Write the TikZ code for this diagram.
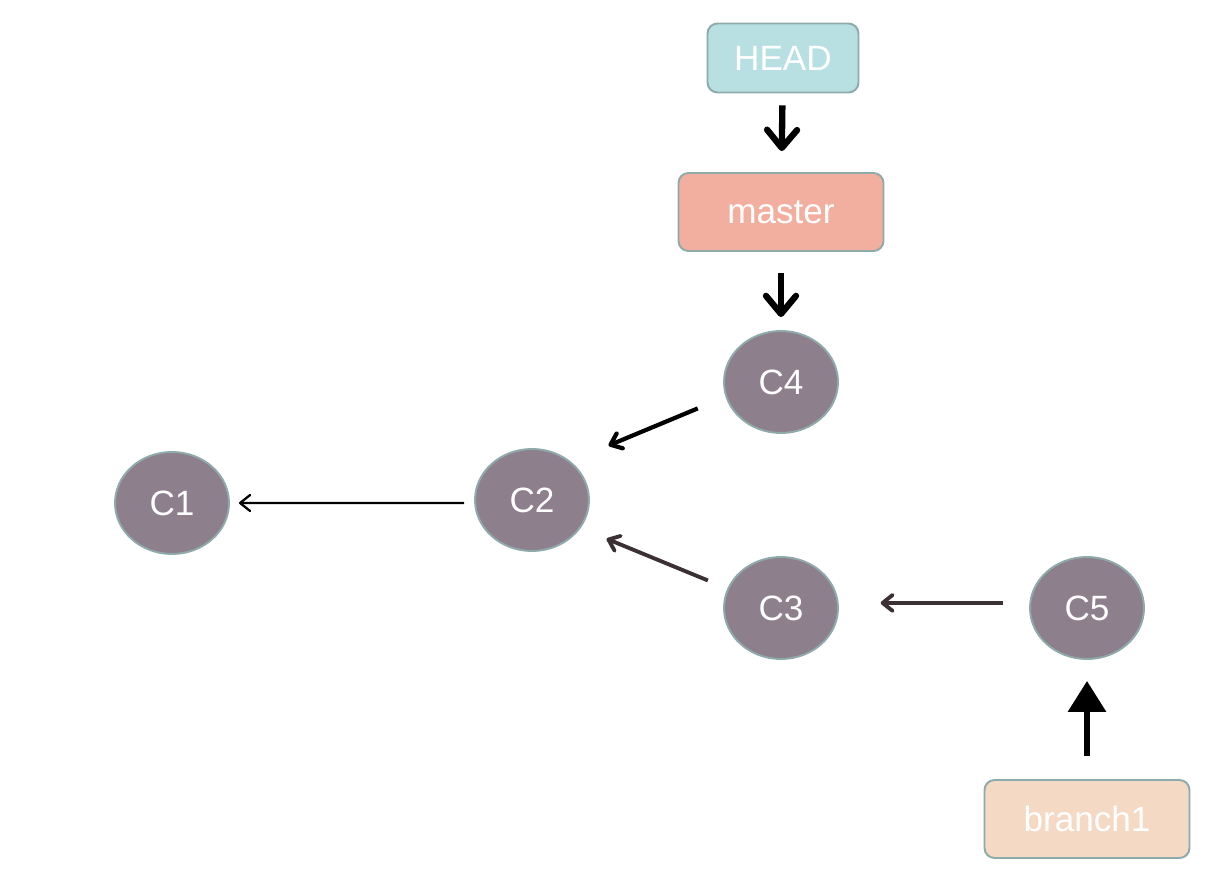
\documentclass[tikz,border=0pt]{standalone}
\usepackage{fontspec}
\setmainfont{Liberation Sans}
\usetikzlibrary{arrows.meta,shapes.geometric}
\definecolor{headfill}{HTML}{B8DFE2}
\definecolor{masterfill}{HTML}{F2AE9E}
\definecolor{branchfill}{HTML}{F4D9C4}
\definecolor{commitfill}{HTML}{8E7F8D}
\definecolor{rim}{HTML}{8FAAAA}
\definecolor{linkdark}{HTML}{3B3034}
\tikzset{
	ref/.style={draw=rim,line width=1.1pt,rounded corners=0.2cm,text=white,
		font=\fontsize{20}{24}\selectfont,minimum width=4.1cm,minimum height=1.56cm},
	commit/.style={ellipse,draw=rim,line width=1.1pt,fill=commitfill,text=white,
		font=\fontsize{20}{24}\selectfont,minimum width=2.28cm,minimum height=2.04cm,inner sep=0pt},
	pointer/.style={line width=3.6pt,-{Straight Barb[round,length=0.36cm,width=0.6cm]}},
	parent/.style={line width=1.3pt,-{Straight Barb[round,length=0.2cm,width=0.32cm]}}
}
\begin{document}
\begin{tikzpicture}[x=0.02cm,y=-0.02cm]
	\useasboundingbox (0,0) rectangle (1232,895);
	\node[ref,fill=headfill,minimum width=3.02cm,minimum height=1.38cm] (HEAD) at (783,58) {HEAD};
	\node[ref,fill=masterfill] (master) at (781,212) {master};
	\node[ref,fill=branchfill] (branch1) at (1087,819) {branch1};
	\foreach \x/\y/\c in {172/503/C1,532/500/C2,781/608/C3,781/382/C4,1087/608/C5}
	\path (\x,\y) node[commit](\c){\c};
	\draw[pointer,shorten <=0.24cm,shorten >=0.42cm] (HEAD) -- (master);
	\draw[pointer,shorten <=0.42cm,shorten >=0.26cm] (master) -- (C4);
	\draw[line width=3.6pt,-{Triangle[length=0.62cm,width=0.74cm]},shorten <=0.46cm,shorten >=0.42cm] (branch1) -- (C5);
	\draw[parent,shorten <=0.2cm,shorten >=0.18cm] (C2.183) -- (C1.east);
	\draw[parent,line width=2.4pt,shorten <=0.6cm,shorten >=0.82cm] (C4.195) -- (C2.45);
	\draw[parent,line width=2.2pt,draw=linkdark,shorten <=0.42cm,shorten >=0.56cm] (C3.160) -- (C2.-30);
	\draw[parent,line width=2.2pt,draw=linkdark,shorten <=0.52cm,shorten >=0.84cm] (C5.175) -- (C3.5);
\end{tikzpicture}
\end{document}
